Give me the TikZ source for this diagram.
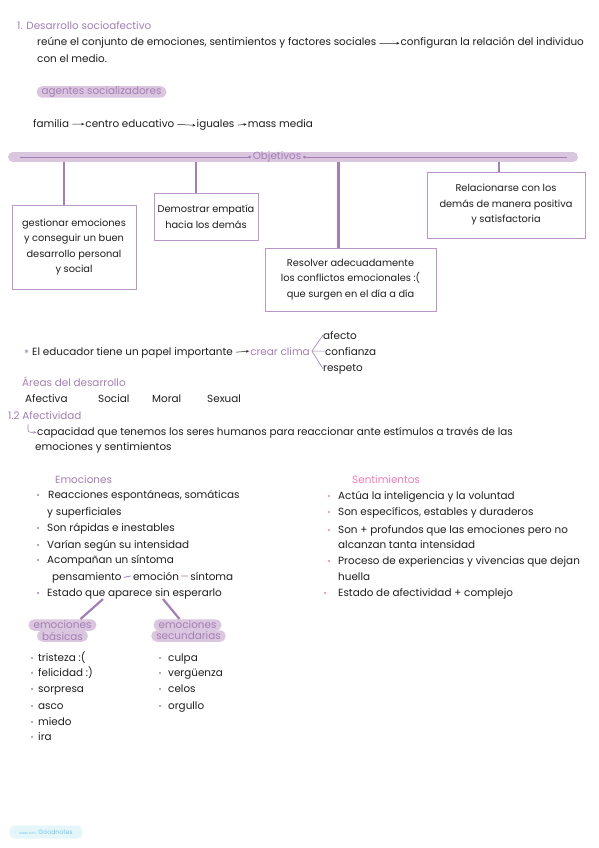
\documentclass[tikz,border=0pt]{standalone}
\usepackage{fontspec}
\newfontfamily\hand{Poppins}
\usetikzlibrary{arrows.meta, positioning, calc}

\definecolor{lila}{HTML}{A47FB4}
\definecolor{lilaclaro}{HTML}{DBC6E0}
\definecolor{lilaborde}{HTML}{BA97C6}
\definecolor{rosa}{HTML}{F07CB6}
\definecolor{tinta}{HTML}{1E1E1E}
\definecolor{azulgn}{HTML}{6FC7E5}
\definecolor{azulfondo}{HTML}{E5F6FB}

\tikzset{
  txt/.style={anchor=base west, inner sep=0pt, text=tinta,
              font=\hand\fontsize{10.4}{12}\selectfont},
  titulo/.style={txt, text=lila},
  flecha/.style={draw=tinta, line width=0.5pt, -{Stealth[length=3pt,width=2.6pt]},
                 shorten <=3pt, shorten >=1pt},
  caja/.style={draw=lilaborde, line width=0.9pt, align=center, inner sep=0pt,
               text=tinta, font=\hand\fontsize{9.8}{15.5}\selectfont},
  caida/.style={draw=lila, line width=2.6pt},
  pastilla/.style={fill=lilaclaro, rounded corners=5.5pt, inner xsep=5pt,
                   inner ysep=0pt, minimum height=11.5pt, text=lila,
                   font=\hand\fontsize{10.4}{12}\selectfont},
  rama/.style={draw=lila, line width=0.6pt},
}

\begin{document}
\begin{tikzpicture}[x=1pt,y=-1pt]
\fill[white] (0,0) rectangle (599,848);
\useasboundingbox (0,0) rectangle (599,848);

% --- 1. DESARROLLO SOCIOAFECTIVO ---
\node[titulo] (tit1) at (17,30) {1. Desarrollo socioafectivo};
\node[txt] (reune) at (37,46) {reúne el conjunto de emociones, sentimientos y factores sociales};
\node[txt, base right=24pt of reune] (config) {configuran la relación del individuo};
\node[txt] (medio) at (37,63) {con el medio.};
\draw[flecha] (reune.east) -- (config.west);

% --- AGENTES ---
\node[pastilla] (agentes) at (101.5,92) {agentes socializadores};
\node[txt] (fam) at (33,128) {familia};
\node[txt, base right=16pt of fam] (centro) {centro educativo};
\node[txt, base right=22pt of centro] (iguales) {iguales};
\node[txt, base right=13pt of iguales] (mass) {mass media};
\draw[flecha] (fam.east) -- (centro.west);
\draw[flecha] (centro.east) -- (iguales.west);
\draw[flecha] (iguales.east) -- (mass.west);

% --- OBJETIVOS ---
\node[caja, minimum width=124pt, minimum height=84pt] (g1) at (74,247)
  {gestionar emociones\\y conseguir un buen\\desarrollo personal\\y social};
\node[caja, minimum width=104pt, minimum height=47pt] (g2) at (206,216.5)
  {Demostrar empatía\\hacia los demás};
\node[caja, minimum width=171pt, minimum height=63pt] (g3) at (350.5,279.5)
  {Resolver adecuadamente\\los conflictos emocionales :(\\que surgen en el día a día};
\node[caja, minimum width=158pt, minimum height=66pt] (g4) at (506,205)
  {Relacionarse con los\\demás de manera positiva\\y satisfactoria};

\coordinate (barraIz) at (13,157);
\coordinate (barraDe) at (573,157);
\foreach \b/\dx in {g1/-10,g2/-10,g3/-12,g4/-7} {
  \coordinate (d\b) at ($(\b.north)+(\dx,0)$);
  \draw[caida] (d\b) -- (d\b |- barraIz);
}
\draw[line width=10pt, lilaclaro, line cap=round] (barraIz) -- (barraDe);
\node[titulo, anchor=center, inner xsep=3pt] (obj) at (277,157) {Objetivos};
\draw[lila, line width=0.7pt] (20,157) -- (obj.west);
\draw[lila, line width=0.7pt] (obj.east) -- (567,157);
\fill[lila] (obj.west) circle (1.5pt);
\fill[lila] (obj.east) circle (1.5pt);

% --- EDUCADOR ---
\node[titulo] (ast) at (24,357) {*};
\node[txt] (educ) at (32,355) {El educador tiene un papel importante};
\node[titulo, base right=17pt of educ] (clima) {crear clima};
\draw[flecha] (educ.east) -- (clima.west);
\node[txt, base right=13pt of clima, yshift=16pt] (afecto) {afecto};
\node[txt, base right=15pt of clima] (confianza) {confianza};
\node[txt, base right=13pt of clima, yshift=-16pt] (respeto) {respeto};
\coordinate (nudo) at ($(clima.east)+(2,0)$);
\draw[rama] (nudo) -- (afecto.west);
\draw[rama] (nudo) -- (confianza.west);
\draw[rama] (nudo) -- (respeto.west);

% --- AREAS ---
\node[titulo] (areas) at (22,386) {Áreas del desarrollo};
\foreach \n/\x/\t in {a1/25/Afectiva, a2/98/Social, a3/152/Moral, a4/207/Sexual} {
  \node[txt] (\n) at (\x,402) {\t};
}

% --- 1.2 AFECTIVIDAD ---
\node[titulo] (tit2) at (8,419) {1.2 Afectividad};
\node[txt] (capac) at (37,435) {capacidad que tenemos los seres humanos para reaccionar ante estímulos a través de las};
\node[txt] (capac2) at (35,450) {emociones y sentimientos};
\draw[rama, -{Stealth[length=2.5pt,width=2.4pt]}, rounded corners=2.5pt]
  ($(capac.west)+(-9,-8)$) |- ($(capac.west)+(-1,0)$);

% --- EMOCIONES ---
\node[titulo] (emo) at (55,483) {Emociones};
\foreach \i/\x/\y/\t in {1/48/498/{Reacciones espontáneas, somáticas},
                         2/47/515/{y superficiales},
                         3/47/531/{Son rápidas e inestables},
                         4/47/548/{Varían según su intensidad},
                         5/47/563/{Acompañan un síntoma},
                         7/47/596/{Estado que aparece sin esperarlo}} {
  \node[txt] (e\i) at (\x,\y) {\t};
}
\foreach \y in {495,528,545,560,593} {
  \fill[lila] (38,\y) circle (1.2pt);
}
\node[txt] (pens) at (52,580) {pensamiento};
\node[txt, base right=11pt of pens] (emoc) {emoción};
\node[txt, base right=11pt of emoc] (sint) {síntoma};
\draw[rama, line width=0.8pt] ([xshift=2pt]pens.east) -- ([xshift=-2pt]emoc.west);
\draw[rama, line width=0.8pt] ([xshift=2pt]emoc.east) -- ([xshift=-2pt]sint.west);

% --- SENTIMIENTOS ---
\node[txt, text=rosa] (sent) at (352,483) {Sentimientos};
\foreach \i/\y/\t in {1/499/{Actúa la inteligencia y la voluntad},
                      2/515/{Son específicos, estables y duraderos},
                      3/533/{Son + profundos que las emociones pero no},
                      4/548/{alcanzan tanta intensidad},
                      5/564/{Proceso de experiencias y vivencias que dejan},
                      6/580/{huella},
                      7/596/{Estado de afectividad + complejo}} {
  \node[txt] (s\i) at (338,\y) {\t};
}
\foreach \x/\y in {329/496,329/512,329/530,329/561,325/593} {
  \fill[rosa] (\x,\y) circle (1.2pt);
}

% --- TIPOS DE EMOCIONES ---
\node[pastilla] (bas2) at (62.5,636) {básicas};
\node[pastilla] (bas1) at (62.5,625) {emociones};
\node[pastilla] (sec2) at (188.5,636) {secundarias};
\node[pastilla] (sec1) at (187.5,625) {emociones};
\coordinate (r1) at (103,599);
\coordinate (r2) at (163,599);
\draw[caida, line width=2.2pt] (r1) -- ([xshift=18pt]bas1.north);
\draw[caida, line width=2.2pt] (r2) -- ([xshift=-8pt]sec1.north);

\foreach \i/\y/\t in {1/661/{tristeza :(}, 2/676/{felicidad :)}, 3/692/sorpresa,
                      4/709/asco, 5/725/miedo, 6/740/ira} {
  \node[txt] (b\i) at (38,\y) {\t};
  \fill[lila] (32,\y-3) circle (1.2pt);
}
\foreach \i/\y/\t in {1/661/culpa, 2/676/vergüenza, 3/692/celos, 4/709/orgullo} {
  \node[txt] (c\i) at (168,\y) {\t};
  \fill[lila] (160,\y-3) circle (1.2pt);
}

% --- GOODNOTES ---
\node[fill=azulfondo, rounded corners=6pt, minimum width=73pt, minimum height=13pt,
      inner sep=0pt, text=azulgn, font=\hand] (gn) at (46,832)
  {{\fontsize{3.2}{4}\selectfont Made with}\ {\fontsize{6.2}{7}\selectfont Goodnotes}};
\end{tikzpicture}
\end{document}
